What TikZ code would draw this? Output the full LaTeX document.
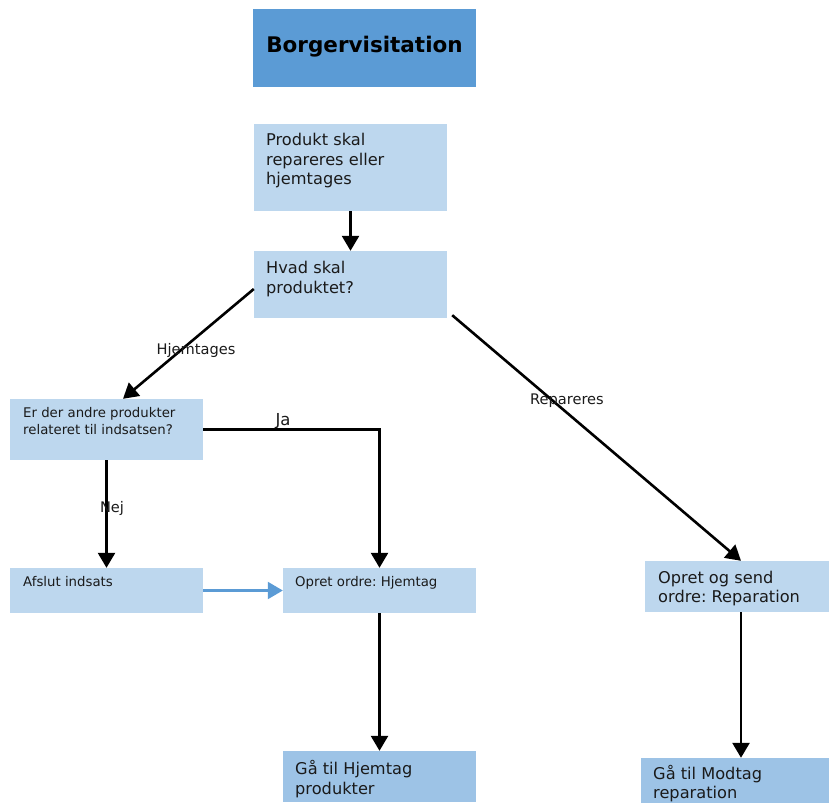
\documentclass[tikz,border=0pt]{standalone}
\usepackage{fontspec}
\setmainfont{DejaVu Sans}
\usetikzlibrary{arrows.meta,calc}
\definecolor{titleblue}{HTML}{5B9BD5}
\definecolor{lightbox}{HTML}{BDD7EE}
\definecolor{midbox}{HTML}{9DC3E6}
\definecolor{txt}{HTML}{1A1A1A}
\frenchspacing
\begin{document}
\begin{tikzpicture}[x=1pt,y=-1pt,
  box/.style={fill=lightbox,draw=none,inner sep=0pt,minimum width=#1},
  box/.default=193pt,
  endbox/.style={fill=midbox,draw=none,inner sep=0pt},
  btext/.style={anchor=west,align=left,inner sep=0pt,text=txt,font=\fontsize{16.2}{19.5}\selectfont},
  stext/.style={anchor=west,align=left,inner sep=0pt,text=txt,font=\fontsize{13.3}{17}\selectfont},
  lbl/.style={inner sep=0pt,text=txt,font=\fontsize{14.6}{16}\selectfont},
  conn/.style={line width=2.6pt,-{Triangle[length=15pt,width=17pt]}},
  bconn/.style={line width=2.2pt,draw=titleblue,-{Triangle[length=15pt,width=17pt]}}
]
\path[use as bounding box] (0,0) rectangle (829,803);

% boxes
\node[fill=titleblue,inner sep=0pt,minimum width=223pt,minimum height=78pt] (title) at (364.5,48) {};
\node[inner sep=0pt,font=\bfseries\fontsize{21.5}{24}\selectfont] (titletext) at (364.5,47) {Borgervisitation};

\node[box,minimum height=87pt] (prod) at (350.5,167.5) {};
\node[btext,anchor=north west] (prodtext) at (266,133) {Produkt skal\\repareres eller\\hjemtages};

\node[box,minimum height=67pt] (hvad) at (350.5,284.5) {};
\node[btext,anchor=north west] (hvadtext) at (266,261) {Hvad skal\\produktet?};

\node[box,minimum height=61pt] (erder) at (106.5,429.5) {};
\node[stext,anchor=north west] (erdertext) at (23,407.5) {Er der andre produkter\\relateret til indsatsen?};

\node[box,minimum height=45pt] (afslut) at (106.5,590.5) {};
\node[stext] (afsluttext) at (23,581.5) {Afslut indsats};

\node[box,minimum height=45pt] (opret) at (379.5,590.5) {};
\node[stext] (oprettext) at (295,582.5) {Opret ordre: Hjemtag};

\node[box=184pt,minimum height=51pt] (send) at (737,586.5) {};
\node[btext,anchor=north west] (sendtext) at (658,570.5) {Opret og send\\ordre: Reparation};

\node[endbox,minimum width=193pt,minimum height=51pt] (gaa1) at (379.5,776.5) {};
\node[btext,anchor=north west] (gaa1text) at (295,760.5) {Gå til Hjemtag\\produkter};

\node[endbox,minimum width=188pt,minimum height=45pt] (gaa2) at (735,780.5) {};
\node[btext,anchor=north west,font=\fontsize{16.2}{19}\selectfont] (gaa2text) at (653,765.5) {Gå til Modtag\\reparation};

% connectors
\draw[conn] (prod.south) -- (hvad.north);
\draw[conn] ([yshift=-4.5pt]hvad.west) -- ([xshift=16.5pt]erder.north);
\draw[conn] ([xshift=5pt,yshift=3pt]hvad.south east) -- ([xshift=4pt]send.north);
\draw[conn] (erder.east) -| (opret.north);
\draw[conn] (erder.south) -- (afslut.north);
\draw[bconn] (afslut.east) -- (opret.west);
\draw[conn] (opret.south) -- (gaa1.north);
\draw[conn] ([xshift=4pt]send.south) -- ([xshift=4pt]send.south |- gaa2.north);

% labels
\node[lbl] (lhjem) at (196,350) {Hjemtages};
\node[lbl] (lrep) at (567,401) {Repareres};
\node[lbl,font=\fontsize{16.5}{18}\selectfont] (lja) at (283,421) {Ja};
\node[lbl] (lnej) at (112,508) {Nej};
\end{tikzpicture}
\end{document}
